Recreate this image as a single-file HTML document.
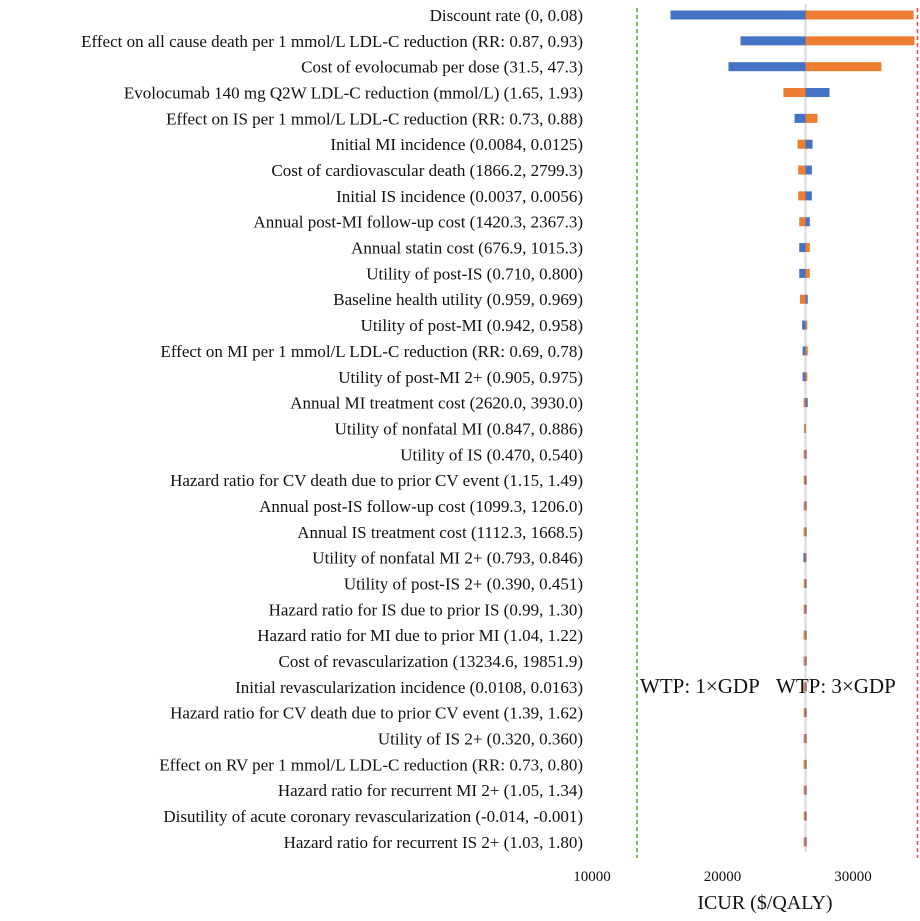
<!DOCTYPE html>
<html><head><meta charset="utf-8"><style>
body{margin:0;background:#fff}
svg text{font-family:"Liberation Serif",serif;fill:#111}
</style></head><body>
<svg id="c" width="920" height="916"></svg>
<script>
const labels=["Discount rate (0, 0.08)","Effect on all cause death per 1 mmol/L LDL-C reduction (RR: 0.87, 0.93)","Cost of evolocumab per dose (31.5, 47.3)","Evolocumab 140 mg Q2W LDL-C reduction (mmol/L) (1.65, 1.93)","Effect on IS per 1 mmol/L LDL-C reduction (RR: 0.73, 0.88)","Initial MI incidence (0.0084, 0.0125)","Cost of cardiovascular death (1866.2, 2799.3)","Initial IS incidence (0.0037, 0.0056)","Annual post-MI follow-up cost (1420.3, 2367.3)","Annual statin cost (676.9, 1015.3)","Utility of post-IS (0.710, 0.800)","Baseline health utility (0.959, 0.969)","Utility of post-MI (0.942, 0.958)","Effect on MI per 1 mmol/L LDL-C reduction (RR: 0.69, 0.78)","Utility of post-MI 2+ (0.905, 0.975)","Annual MI treatment cost (2620.0, 3930.0)","Utility of nonfatal MI (0.847, 0.886)","Utility of IS (0.470, 0.540)","Hazard ratio for CV death due to prior CV event (1.15, 1.49)","Annual post-IS follow-up cost (1099.3, 1206.0)","Annual IS treatment cost (1112.3, 1668.5)","Utility of nonfatal MI 2+ (0.793, 0.846)","Utility of post-IS 2+ (0.390, 0.451)","Hazard ratio for IS due to prior IS (0.99, 1.30)","Hazard ratio for MI due to prior MI (1.04, 1.22)","Cost of revascularization (13234.6, 19851.9)","Initial revascularization incidence (0.0108, 0.0163)","Hazard ratio for CV death due to prior CV event (1.39, 1.62)","Utility of IS 2+ (0.320, 0.360)","Effect on RV per 1 mmol/L LDL-C reduction (RR: 0.73, 0.80)","Hazard ratio for recurrent MI 2+ (1.05, 1.34)","Disutility of acute coronary revascularization (-0.014, -0.001)","Hazard ratio for recurrent IS 2+ (1.03, 1.80)"];
const blueVals=[16015,21380,20460,28200,25520,26900,26850,26850,26690,25880,25880,26530,26100,26140,26140,26530,26300,26380,26380,26380,26380,26200,26380,26380,26380,26380,26380,26380,26380,26380,26380,26380,26380];
const orangeVals=[34640,34710,32180,24670,27280,25750,25800,25800,25880,26690,26690,25930,26500,26530,26500,26220,26250,26220,26220,26220,26220,26370,26220,26220,26220,26220,26220,26220,26220,26220,26220,26220,26220];
const baseVal=26360;
const ticks=[10000,20000,30000];
const wtp1=13450, wtp3=34940;
const svg=document.getElementById('c');
const NS='http://www.w3.org/2000/svg';
const x=v=>592+(v-10000)*0.01305;
const y=i=>15+i*25.84;
function mk(t,a,txt){const e=document.createElementNS(NS,t);for(const k in a)e.setAttribute(k,a[k]);if(txt!=null)e.textContent=txt;svg.appendChild(e);return e;}
labels.forEach((l,i)=>{
 const t=mk('text',{x:583,y:y(i)+6,'text-anchor':'end','font-size':17},l);
 
 
});
const bl=mk('line',{x1:x(baseVal),x2:x(baseVal),y1:4,y2:852,stroke:'#d9d9d9','stroke-width':2});


function bar(v,i,c,n){const a=Math.min(x(v),x(baseVal)),b=Math.max(x(v),x(baseVal));
 const r=mk('rect',{x:a,y:y(i)-4.5,width:Math.max(b-a,1.2),height:9,fill:c});
 
 }
labels.forEach((l,i)=>{bar(blueVals[i],i,'#4472c4','bar-low');bar(orangeVals[i],i,'#ed7d31','bar-high');});
const g=mk('line',{x1:x(wtp1),x2:x(wtp1),y1:8,y2:858,stroke:'#4ea72e','stroke-width':1.5,'stroke-dasharray':'4,3'});


const r=mk('line',{x1:x(wtp3),x2:x(wtp3),y1:8,y2:858,stroke:'#ff3b3b','stroke-width':1.5,'stroke-dasharray':'4,3'});


const w1=mk('text',{x:640,y:693,'font-size':21},'WTP: 1×GDP');


const w3=mk('text',{x:776,y:693,'font-size':21},'WTP: 3×GDP');


ticks.forEach(t=>{const e=mk('text',{x:x(t),y:881,'text-anchor':'middle','font-size':15},String(t));
 
 });
const at=mk('text',{x:765,y:909,'text-anchor':'middle','font-size':20},'ICUR ($/QALY)');


</script>
</body></html>
